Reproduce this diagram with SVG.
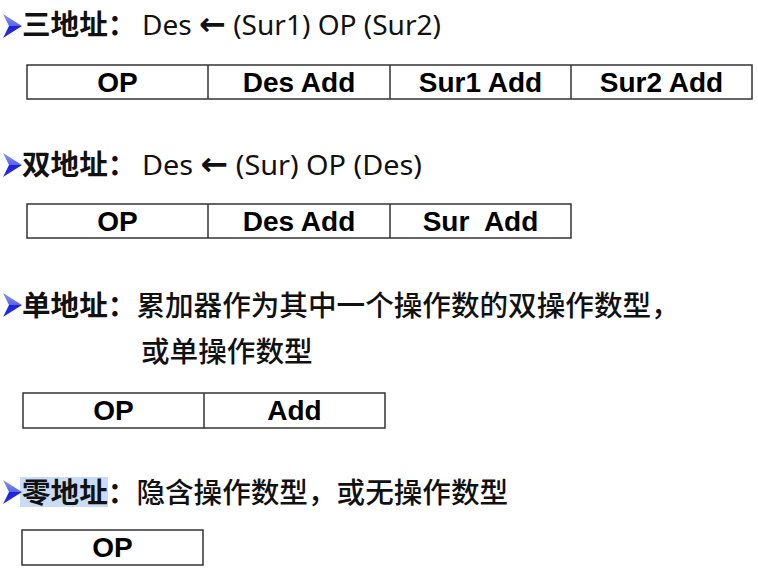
<svg xmlns="http://www.w3.org/2000/svg" width="758" height="575" viewBox="0 0 758 575">
<style>
.cjk{font-family:"Noto Sans CJK SC","Noto Sans",sans-serif;font-size:28.6px;fill:#111;font-weight:500}
.b{font-weight:bold}
.lat{font-family:"Noto Sans","DejaVu Sans",sans-serif;font-size:28px;fill:#111}
.arr{font-family:"DejaVu Sans",sans-serif;font-weight:bold;font-size:32px}
.cell{fill:#fff;stroke:#333;stroke-width:1.5}
.div{stroke:#333;stroke-width:1.5}
.ct{font-family:"Liberation Sans",Arial,sans-serif;font-weight:bold;font-size:28px;fill:#000;text-anchor:middle;white-space:pre}
</style>
<defs>
<linearGradient id="bg" x1="0" y1="0" x2="0" y2="1">
<stop offset="0" stop-color="#8a96f2"/>
<stop offset="0.5" stop-color="#5a64e8"/>
<stop offset="0.5" stop-color="#1c22d8"/>
<stop offset="1" stop-color="#2a34e0"/>
</linearGradient>
<path id="bul" d="M0,-12 L19,0 L0,12 L6,0 Z" fill="url(#bg)"/>
</defs>
<rect width="758" height="575" fill="#fff"/>

<g id="line1">
<use href="#bul" x="3" y="26"/>
<text class="cjk b" x="22" y="35">三地址：</text>
<text class="lat" x="142" y="35" textLength="299" lengthAdjust="spacingAndGlyphs">Des <tspan class="arr">←</tspan> (Sur1) OP (Sur2)</text>
</g>
<g id="table1">
<rect class="cell" x="27" y="65" width="725" height="34"/>
<line class="div" x1="208" y1="65" x2="208" y2="99"/>
<line class="div" x1="390" y1="65" x2="390" y2="99"/>
<line class="div" x1="571" y1="65" x2="571" y2="99"/>
<text class="ct" x="117.5" y="92">OP</text>
<text class="ct" x="299" y="92">Des Add</text>
<text class="ct" x="480.5" y="92">Sur1 Add</text>
<text class="ct" x="661.5" y="92">Sur2 Add</text>
</g>

<g id="line2">
<use href="#bul" x="3" y="165"/>
<text class="cjk b" x="22" y="175">双地址：</text>
<text class="lat" x="142" y="175" textLength="280" lengthAdjust="spacingAndGlyphs">Des <tspan class="arr">←</tspan> (Sur) OP (Des)</text>
</g>
<g id="table2">
<rect class="cell" x="27" y="204" width="544" height="34"/>
<line class="div" x1="208" y1="204" x2="208" y2="238"/>
<line class="div" x1="390" y1="204" x2="390" y2="238"/>
<text class="ct" x="117.5" y="231">OP</text>
<text class="ct" x="299" y="231">Des Add</text>
<text class="ct" x="480.5" y="231" xml:space="preserve">Sur  Add</text>
</g>

<g id="line3">
<use href="#bul" x="3" y="305"/>
<text class="cjk" x="22" y="316"><tspan class="b">单地址：</tspan>累加器作为其中一个操作数的双操作数型，</text>
<text class="cjk" x="141" y="362">或单操作数型</text>
</g>
<g id="table3">
<rect class="cell" x="23" y="393" width="362" height="35"/>
<line class="div" x1="204" y1="393" x2="204" y2="428"/>
<text class="ct" x="113.5" y="420">OP</text>
<text class="ct" x="294.5" y="420">Add</text>
</g>

<g id="line4">
<rect x="20" y="477" width="88" height="30" fill="#c9dcf5"/>
<use href="#bul" x="3" y="492"/>
<text class="cjk" x="22" y="503"><tspan class="b">零地址：</tspan>隐含操作数型，或无操作数型</text>
</g>
<g id="table4">
<rect class="cell" x="22" y="530" width="181" height="35"/>
<text class="ct" x="112.5" y="557">OP</text>
</g>
</svg>
